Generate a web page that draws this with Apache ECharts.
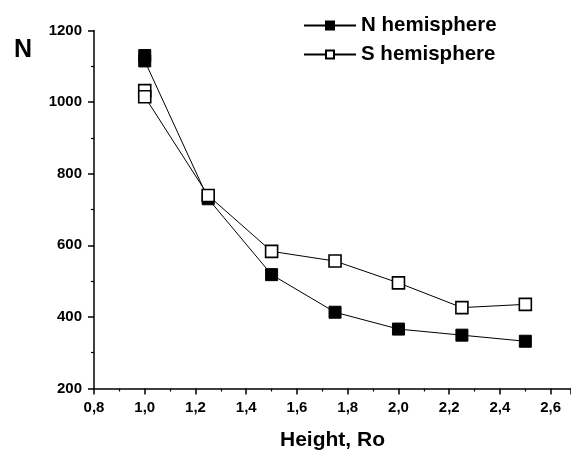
<!DOCTYPE html>
<html>
<head>
<meta charset="utf-8">
<script src="https://cdn.jsdelivr.net/npm/echarts@6/dist/echarts.min.js"></script>
<style>html,body{margin:0;padding:0;background:#fff}#c{width:571px;height:451px}</style>
</head>
<body>
<div id="c"></div>
<script>
// Data
var heightN = [1.0, 1.0, 1.25, 1.5, 1.75, 2.0, 2.25, 2.5];
var valuesN = [1130, 1115, 730, 518, 413, 366, 349, 332];
var heightS = [1.0, 1.0, 1.25, 1.5, 1.75, 2.0, 2.25, 2.5];
var valuesS = [1032, 1015, 739, 583, 556, 495, 426, 435];
var seriesNames = ['N hemisphere', 'S hemisphere'];
var xAxisTitle = 'Height, Ro';
var yAxisTitle = 'N';

function pairs(xs, ys) { return xs.map(function (x, i) { return [x, ys[i]]; }); }

var FONT = '"Liberation Sans", Arial, sans-serif';
var chart = echarts.init(document.getElementById('c'));
chart.setOption({
  animation: false,
  backgroundColor: '#fff',
  grid: { left: 94, right: 0, top: 30.5, bottom: 62.5, containLabel: false, outerBoundsMode: 'none' },
  legend: {
    orient: 'vertical',
    left: 303, top: 15, padding: 0,
    itemWidth: 52, itemHeight: 10, itemGap: 8,
    textStyle: { fontFamily: FONT, fontWeight: 'bold', fontSize: 20.5, color: '#000' },
    data: seriesNames
  },
  xAxis: {
    type: 'value', min: 0.8, max: 2.68, interval: 0.2,
    name: xAxisTitle, nameLocation: 'middle', nameGap: 41,
    nameTextStyle: { fontFamily: FONT, fontWeight: 'bold', fontSize: 21, color: '#000' },
    axisLine: { onZero: false, lineStyle: { color: '#000', width: 1.5 } },
    axisTick: { inside: false, length: 6, lineStyle: { color: '#000', width: 1.5 } },
    minorTick: { show: true, splitNumber: 2, length: 3, lineStyle: { color: '#000', width: 1.2 } },
    splitLine: { show: false },
    axisLabel: {
      margin: 12, fontFamily: FONT, fontWeight: 'bold', fontSize: 15, color: '#000',
      showMaxLabel: false,
      formatter: function (v) { return v.toFixed(1).replace('.', ','); }
    }
  },
  yAxis: {
    type: 'value', min: 200, max: 1200, interval: 200,
    name: yAxisTitle, nameLocation: 'end', nameGap: -32,
    nameTextStyle: { fontFamily: FONT, fontWeight: 'bold', fontSize: 25, color: '#000', align: 'right', padding: [0, 62, 0, 0] },
    axisLine: { onZero: false, lineStyle: { color: '#000', width: 1.5 } },
    axisTick: { inside: false, length: 6, lineStyle: { color: '#000', width: 1.5 } },
    minorTick: { show: true, splitNumber: 2, length: 3, lineStyle: { color: '#000', width: 1.2 } },
    splitLine: { show: false },
    axisLabel: {
      margin: 12, fontFamily: FONT, fontWeight: 'bold', fontSize: 15, color: '#000',
      formatter: function (v) { return String(v); }
    }
  },
  series: [
    {
      name: seriesNames[0], type: 'line', data: pairs(heightN, valuesN),
      symbol: 'rect', symbolSize: 12, showAllSymbol: true,
      lineStyle: { color: '#000', width: 1 },
      itemStyle: { color: '#000', borderColor: '#000', borderWidth: 1 },
      z: 3
    },
    {
      name: seriesNames[1], type: 'line', data: pairs(heightS, valuesS),
      symbol: 'rect', symbolSize: 12, showAllSymbol: true,
      lineStyle: { color: '#000', width: 1 },
      itemStyle: { color: '#fff', borderColor: '#000', borderWidth: 1.6 },
      z: 4
    }
  ]
});
</script>
</body>
</html>
